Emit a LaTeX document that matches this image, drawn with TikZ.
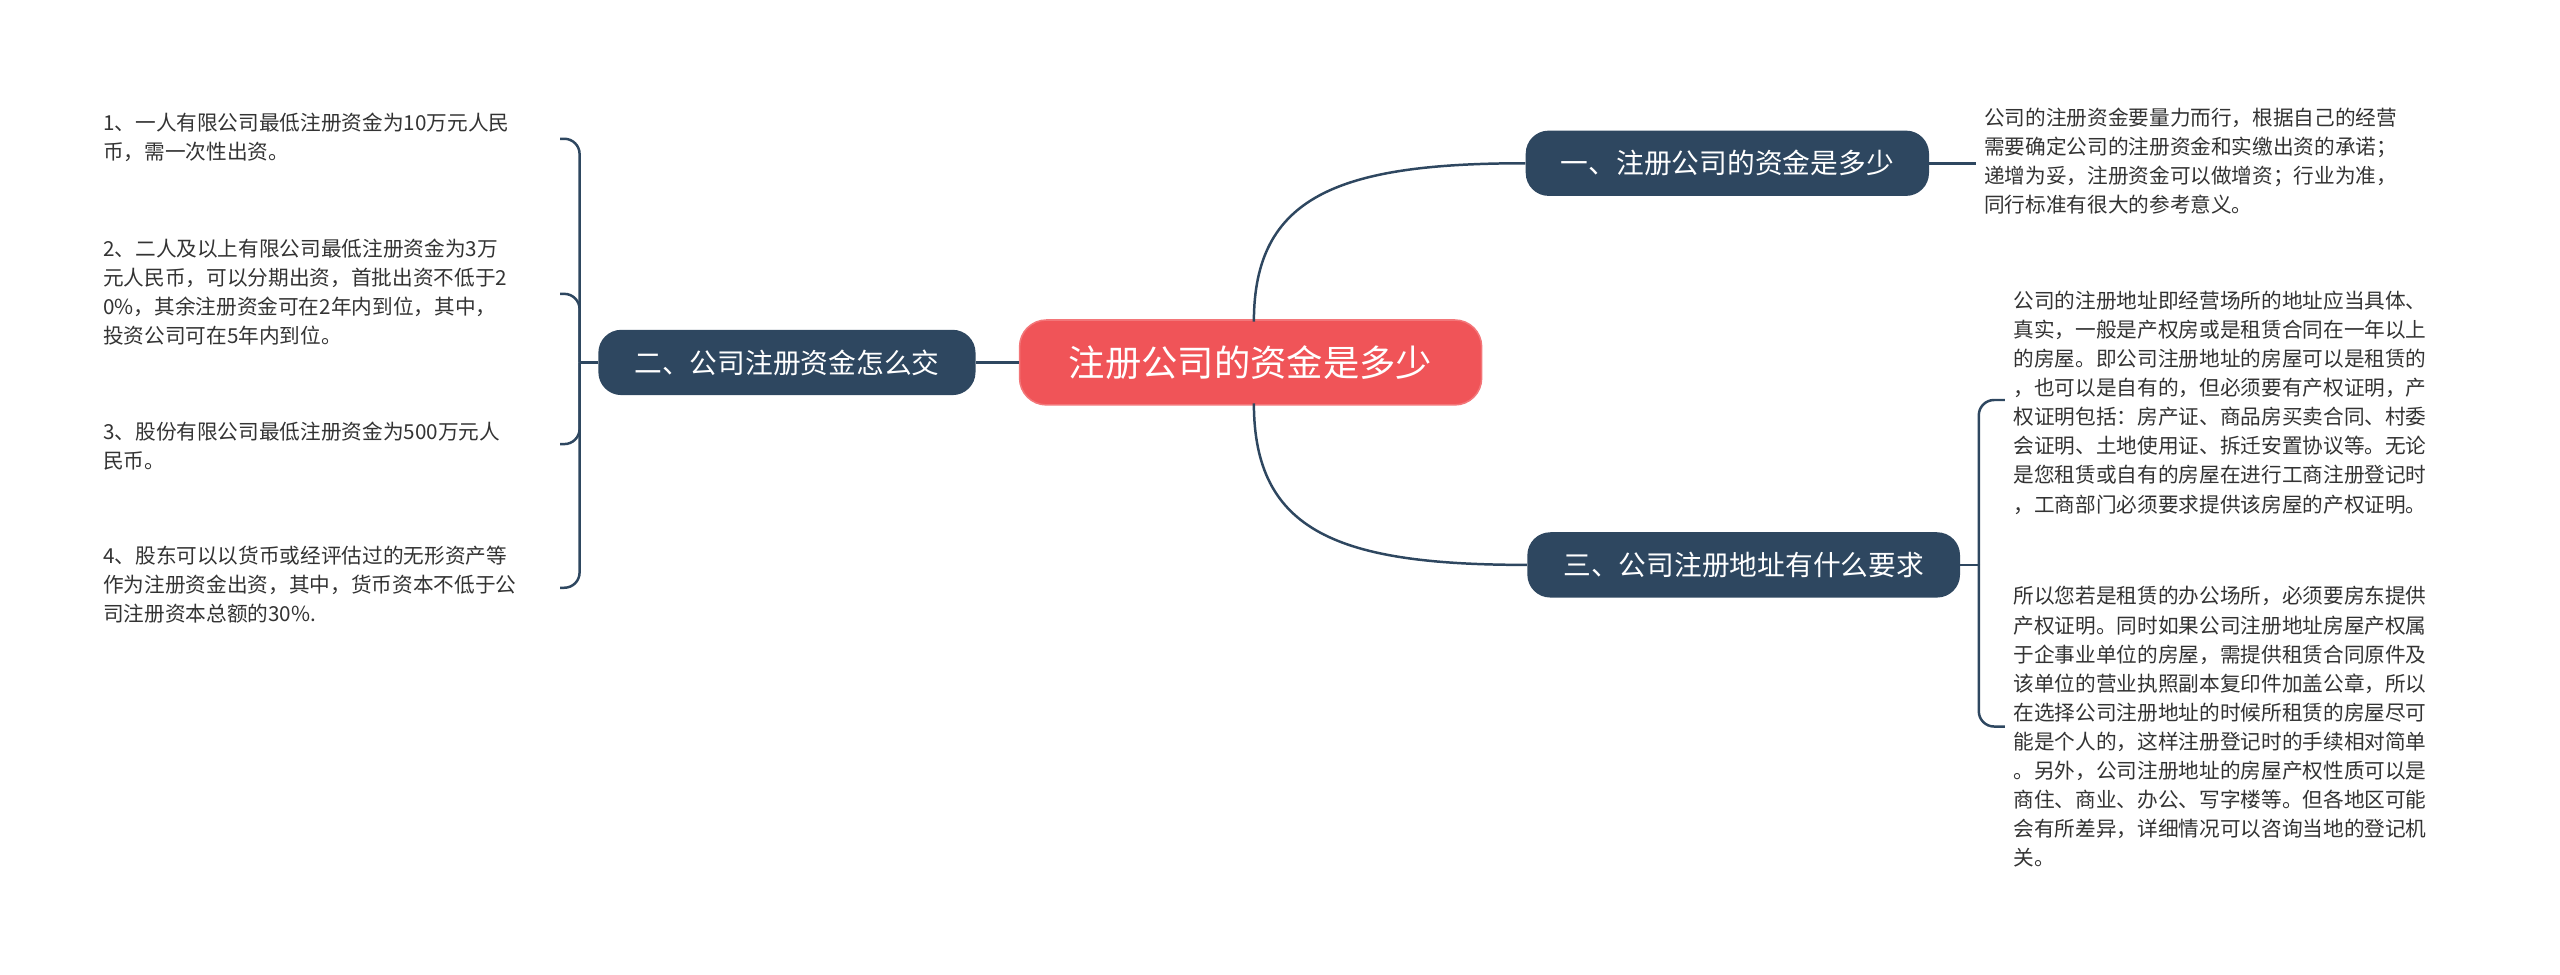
\documentclass[tikz,border=0pt]{standalone}
\usepackage{fontspec}
\setmainfont{Noto Sans CJK SC}
\begin{document}
\begin{tikzpicture}[x=0.03cm,y=-0.03cm,
  root/.style={draw=#1!80!white,fill=#1,rounded corners=14pt,text=white,font=\fontsize{19}{22}\selectfont,minimum width=8.49cm,minimum height=1.56cm,inner sep=0pt,line width=0.8pt},
  br/.style={fill=brc,rounded corners=12pt,text=white,font=\fontsize{14.5}{17}\selectfont,minimum height=1.2cm,inner sep=0pt},
  txt/.style={anchor=north west,inner sep=0pt,align=left,text=txc,font=\fontsize{10.8}{15.2}\selectfont},
  ln/.style={draw=brc,line width=1.3pt}]
\definecolor{rc}{HTML}{F05458}
\definecolor{brc}{HTML}{2E4760}
\definecolor{txc}{HTML}{333333}
\useasboundingbox (0,0) rectangle (1568,597);
\node[root=rc] (c) at (766,222) {注册公司的资金是多少};
\node[br,minimum width=7.41cm] (b1) at (1058,100) {一、注册公司的资金是多少};
\node[br,minimum width=7.95cm] (b3) at (1068,346) {三、公司注册地址有什么要求};
\node[br,minimum width=6.93cm] (b2) at (482,222) {二、公司注册资金怎么交};
\draw[ln] (768,197) .. controls (768,120) and (820,100) .. (b1.west);
\draw[ln] (768,247) .. controls (768,326) and (820,346) .. (b3.west);
\draw[ln] (c.west) -- (b2.east);
% branch 1
\coordinate (e1) at (1210,100);
\draw[ln] (b1.east) -- (e1);
\node[txt] (t1) at (1215,66) {公司的注册资金要量力而行，根据自己的经营\\需要确定公司的注册资金和实缴出资的承诺；\\递增为妥，注册资金可以做增资；行业为准，\\同行标准有很大的参考意义。};
% branch 3
\coordinate (j3) at (1212,346);
\coordinate (u3) at (1228,245);
\coordinate (d3) at (1228,445);
\draw[ln] (b3.east) -- (j3);
\draw[ln,rounded corners=8pt] (j3) |- (u3);
\draw[ln,rounded corners=8pt] (j3) |- (d3);
\node[txt] (t3a) at (1233,178) {公司的注册地址即经营场所的地址应当具体、\\真实，一般是产权房或是租赁合同在一年以上\\的房屋。即公司注册地址的房屋可以是租赁的\\，也可以是自有的，但必须要有产权证明，产\\权证明包括：房产证、商品房买卖合同、村委\\会证明、土地使用证、拆迁安置协议等。无论\\是您租赁或自有的房屋在进行工商注册登记时\\，工商部门必须要求提供该房屋的产权证明。};
\node[txt] (t3b) at (1233,359) {所以您若是租赁的办公场所，必须要房东提供\\产权证明。同时如果公司注册地址房屋产权属\\于企事业单位的房屋，需提供租赁合同原件及\\该单位的营业执照副本复印件加盖公章，所以\\在选择公司注册地址的时候所租赁的房屋尽可\\能是个人的，这样注册登记时的手续相对简单\\。另外，公司注册地址的房屋产权性质可以是\\商住、商业、办公、写字楼等。但各地区可能\\会有所差异，详细情况可以咨询当地的登记机\\关。};
% branch 2
\coordinate (j2) at (355,222);
\draw[ln] (b2.west) -- (j2);
\foreach \n/\y in {a/85,b/180,c/272,d/360}{
  \coordinate (l\n) at (343,\y);
  \draw[ln,rounded corners=8pt] (j2) |- (l\n);
}
\node[txt] (i1) at (63,69) {1、一人有限公司最低注册资金为10万元人民\\币，需一次性出资。};
\node[txt] (i2) at (63,146) {2、二人及以上有限公司最低注册资金为3万\\元人民币，可以分期出资，首批出资不低于2\\0\%，其余注册资金可在2年内到位，其中，\\投资公司可在5年内到位。};
\node[txt] (i3) at (63,258) {3、股份有限公司最低注册资金为500万元人\\民币。};
\node[txt] (i4) at (63,334) {4、股东可以以货币或经评估过的无形资产等\\作为注册资金出资，其中，货币资本不低于公\\司注册资本总额的30\%.};
\end{tikzpicture}
\end{document}
